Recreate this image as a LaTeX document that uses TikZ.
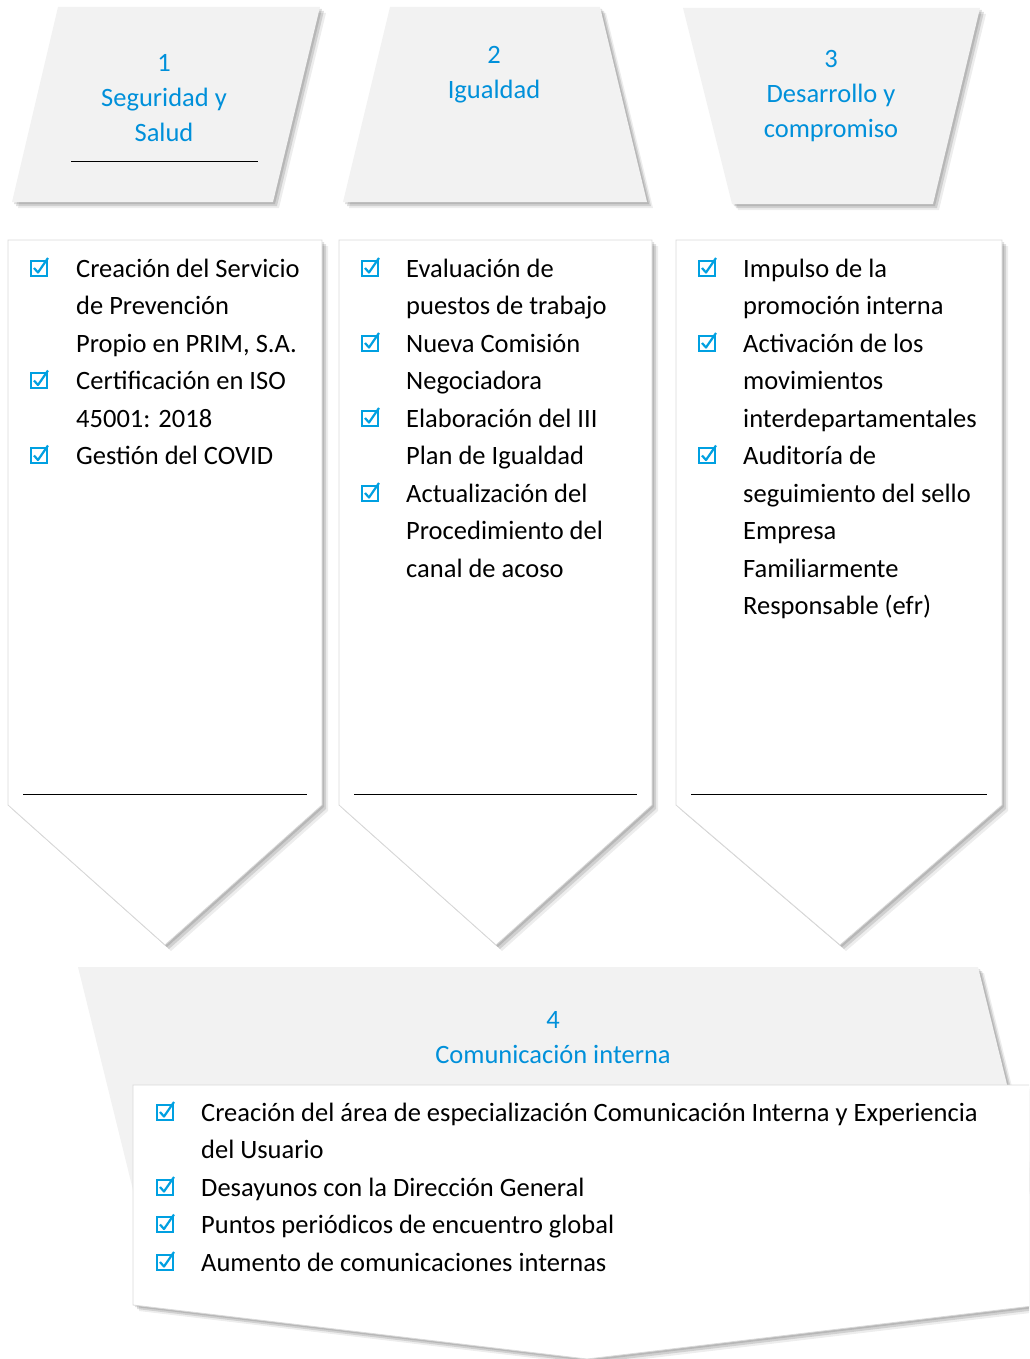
\documentclass[tikz,border=0pt]{standalone}
\usepackage{fontspec}
\setmainfont{Carlito}
\usepackage{tikz}
\usetikzlibrary{shadows}

\definecolor{panelgray}{RGB}{242,242,242}
\definecolor{edgegray}{RGB}{217,217,217}
\definecolor{titleblue}{RGB}{0,144,218}
\definecolor{tickblue}{RGB}{0,160,225}

\tikzset{
  softshadow/.style={
    drop shadow={shadow xshift=2pt, shadow yshift=-2pt, fill=black, opacity=0.12},
    drop shadow={shadow xshift=4pt, shadow yshift=-4pt, fill=black, opacity=0.12},
    drop shadow={shadow xshift=6pt, shadow yshift=-6pt, fill=black, opacity=0.07}},
  headbox/.style={fill=panelgray, softshadow},
  listpanel/.style={fill=white, draw=edgegray, line width=0.8pt, softshadow},
  headtext/.style={text=titleblue, align=center, inner sep=0pt,
    font=\fontsize{26.5}{35}\selectfont},
  % base anchor of a multi-line node sits on its last line
  itemtext/.style={anchor=base west, align=left, inner sep=0pt,
    font=\fontsize{26.5}{37.5}\selectfont},
  endrule/.style={line width=1pt, black},
  chkmark/.pic={
    \draw[tickblue, line width=2pt] (-8, -1.5) rectangle (8, -16.5);
    \draw[tickblue, line width=2.2pt, line join=round] (-5, -9) -- (-1, -4.5) -- (9, -19);
  }
}

\begin{document}
\begin{tikzpicture}[x=1pt, y=-1pt]
    \useasboundingbox (0, 0) rectangle (1029, 1359);
    \clip (0, 0) rectangle (1029, 1359);

    % header shapes
    \path[headbox] (58, 7) -- (320, 7) -- (273, 202) -- (12, 202) -- cycle;
    \path[headbox] (390, 7) -- (600, 7) -- (647, 202) -- (343, 202) -- cycle;
    \path[headbox] (683, 8) -- (980, 8) -- (933, 204) -- (732, 204) -- cycle;
    \draw[endrule] (71, 162) -- (258, 162);

    \node[headtext] (head1) at (164, 98) {1\\Seguridad y\\Salud};
    \node[headtext] (head2) at (494, 75) {2\\Igualdad};
    \node[headtext] (head3) at (831, 96) {3\\Desarrollo y\\compromiso};

    % list panels
    \path[listpanel] (8, 240) -- (322, 240) -- (322, 805) -- (165, 945) -- (8, 805) -- cycle;
    \path[listpanel] (339, 240) -- (652, 240) -- (652, 805) -- (496, 945) -- (339, 805) -- cycle;
    \path[listpanel] (676, 240) -- (1002, 240) -- (1002, 805) -- (840, 945) -- (676, 805) -- cycle;
    \draw[endrule] (23, 794) -- (307, 794);
    \draw[endrule] (354, 794) -- (637, 794);
    \draw[endrule] (691, 794) -- (987, 794);

    \node[itemtext] (seg1) at (76, 352) {Creación del Servicio\\de Prevención\\Propio en PRIM, S.A.};
    \node[itemtext] (seg2) at (76, 427) {Certificación en ISO\\45001: 2018};
    \node[itemtext] (seg3) at (76, 464.5) {Gestión del COVID};

    \node[itemtext] (igu1) at (406, 314.5) {Evaluación de\\puestos de trabajo};
    \node[itemtext] (igu2) at (406, 389.5) {Nueva Comisión\\Negociadora};
    \node[itemtext] (igu3) at (406, 464.5) {Elaboración del III\\Plan de Igualdad};
    \node[itemtext] (igu4) at (406, 577) {Actualización del\\Procedimiento del\\canal de acoso};

    \node[itemtext] (des1) at (743, 314.5) {Impulso de la\\promoción interna};
    \node[itemtext] (des2) at (743, 427) {Activación de los\\movimientos\\interdepartamentales};
    \node[itemtext] (des3) at (743, 614.5) {Auditoría de\\seguimiento del sello\\Empresa\\Familiarmente\\Responsable (efr)};

    % bottom block
    \path[headbox] (78, 967) -- (978, 967) -- (1033, 1190) -- (133, 1190) -- cycle;
    \node[headtext] (head4) at (553, 1037.5) {4\\Comunicación interna};
    \path[listpanel] (133, 1085) -- (1041, 1085) -- (1041, 1305) -- (587, 1359) -- (133, 1305) -- cycle;

    \node[itemtext] (com1) at (201, 1158.5) {Creación del área de especialización Comunicación Interna y Experiencia\\del Usuario};
    \node[itemtext] (com2) at (201, 1196) {Desayunos con la Dirección General};
    \node[itemtext] (com3) at (201, 1233.5) {Puntos periódicos de encuentro global};
    \node[itemtext] (com4) at (201, 1271) {Aumento de comunicaciones internas};

    % check boxes
    \foreach \px/\py in {39/277, 39/389.5, 39/464.5,
        370/277, 370/352, 370/427, 370/502,
        707/277, 707/352, 707/464.5,
        165/1121, 165/1196, 165/1233.5, 165/1271}
        \pic at (\px, \py) {chkmark};
\end{tikzpicture}
\end{document}
